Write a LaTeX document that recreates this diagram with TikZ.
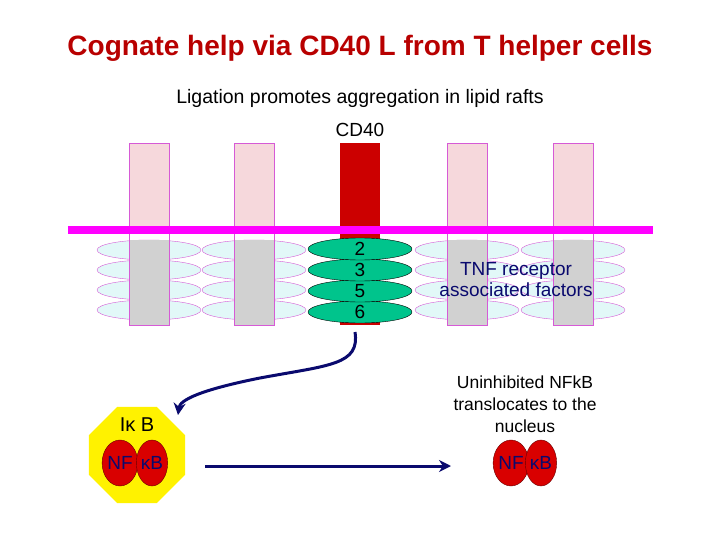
\documentclass[tikz,border=0pt]{standalone}
\usepackage{fontspec}
\setmainfont{Liberation Sans}
\usetikzlibrary{shapes.geometric,arrows.meta}
\definecolor{barpink}{RGB}{246,216,220}
\definecolor{barline}{RGB}{214,90,214}
\definecolor{mag}{RGB}{255,0,255}
\definecolor{cdred}{RGB}{204,0,0}
\definecolor{raft}{RGB}{226,248,248}
\definecolor{traf}{RGB}{0,196,140}
\definecolor{navy}{RGB}{10,10,110}
\begin{document}
\begin{tikzpicture}[x=1pt,y=-1pt,
  traf/.style={ellipse,draw=black,fill=traf,minimum width=104pt,minimum height=22pt,inner sep=0pt,font=\fontsize{19}{19}\selectfont},
  nf/.style={ellipse,draw=black!60!red,fill=red!85!black,minimum width=30pt,minimum height=46pt,inner sep=0pt,text=navy,font=\fontsize{19}{19}\selectfont},
  arr/.style={draw=navy,line width=3pt,-{Stealth[length=12pt,width=12pt]}}]
\useasboundingbox (0,0) rectangle (720,540);
\node (title) at (360,48) {\textcolor{cdred!90!black}{\fontsize{28}{28}\selectfont\bfseries Cognate help via CD40 L from T helper cells}};
\node (sub) at (360,98) {\fontsize{19.5}{20}\selectfont Ligation promotes aggregation in lipid rafts};
\node (cd) at (360,130) {\fontsize{19}{19}\selectfont CD40};
% lipid raft ellipses
\foreach \x in {149,254,467,573}{
  \foreach \y in {250,270,290,310}{
    \draw[barline,fill=raft] (\x,\y) ellipse (52 and 10);
  }
}
% bars
\foreach \x in {149,254,467,573}{
  \fill[barpink] (\x-20,143) rectangle (\x+20,230);
  \fill[black!18] (\x-20,240) rectangle (\x+20,325);
  \draw[barline] (\x-20,143) rectangle (\x+20,325);
}
\fill[cdred] (340,143) rectangle (380,325);
\draw[mag,line width=8pt] (68,230) -- (653,230);
\node[traf] (t6) at (360,312) {6};
\node[traf] (t5) at (360,291) {5};
\node[traf] (t3) at (360,270) {3};
\node[traf] (t2) at (360,249) {2};
\node[text=navy,align=center,font=\fontsize{19}{21}\selectfont] (tnf) at (516,280) {TNF receptor\\associated factors};
% IkB complex
\node[regular polygon,regular polygon sides=8,fill=yellow,minimum size=104pt,inner sep=0pt] (oct) at (137,455) {};
\node[font=\fontsize{20}{20}\selectfont] (ikb) at (137,425) {Iκ B};
\node[nf] (nf1) at (120,463) {NF};
\node[nf] (kb1) at (152,463) {κB};
\node[nf] (nf2) at (511,463) {NF};
\node[nf] (kb2) at (541,463) {κB};
\node[align=center,font=\fontsize{17.5}{22}\selectfont] (unin) at (525,404) {Uninhibited NFkB\\translocates to the\\nucleus};
\coordinate (s) at (355,332);
\coordinate (e) at (451,466);
\draw[arr] (s) .. controls (360,365) and (330,365) .. (260,378) .. controls (200,390) and (180,400) .. (178,415);
\draw[arr] (205,466) -- (e);
\end{tikzpicture}
\end{document}
